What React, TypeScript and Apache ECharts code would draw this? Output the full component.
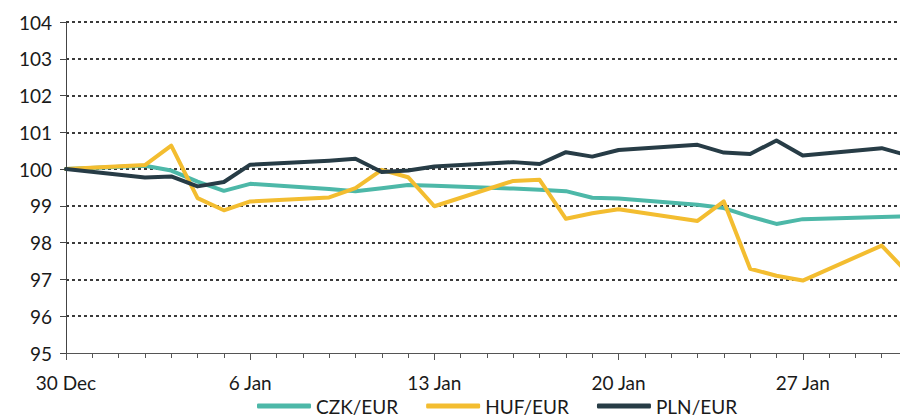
import React, { useEffect, useRef } from "react";
import * as echarts from "echarts";

const categories = [
  "30 Dec", "31 Dec", "1 Jan", "2 Jan", "3 Jan", "4 Jan", "5 Jan", "6 Jan",
  "7 Jan", "8 Jan", "9 Jan", "10 Jan", "11 Jan", "12 Jan", "13 Jan", "14 Jan",
  "15 Jan", "16 Jan", "17 Jan", "18 Jan", "19 Jan", "20 Jan", "21 Jan", "22 Jan",
  "23 Jan", "24 Jan", "25 Jan", "26 Jan", "27 Jan", "28 Jan", "29 Jan", "30 Jan", "31 Jan",
];

const czk = [
  100, null, null, 100.09, 99.96, 99.66, 99.41, 99.6,
  null, null, 99.46, 99.4, 99.48, 99.57, 99.55, null,
  null, 99.47, 99.44, 99.4, 99.22, 99.2, null, null,
  99.03, 98.94, 98.71, 98.51, 98.64, null, null, 98.7, 98.72,
];

const huf = [
  100, null, null, 100.11, 100.64, 99.21, 98.88, 99.12,
  null, null, 99.23, 99.48, 99.98, 99.78, 98.99, null,
  null, 99.68, 99.71, 98.65, 98.8, 98.91, null, null,
  98.59, 99.12, 97.29, 97.1, 96.97, null, null, 97.92, 97.17,
];

const pln = [
  100, null, null, 99.77, 99.8, 99.53, 99.65, 100.12,
  null, null, 100.23, 100.28, 99.92, 99.96, 100.07, null,
  null, 100.19, 100.14, 100.46, 100.34, 100.52, null, null,
  100.66, 100.45, 100.41, 100.78, 100.37, null, null, 100.57, 100.37,
];

const seriesNames = ["CZK/EUR", "HUF/EUR", "PLN/EUR"];
const colors = ["#4db8a8", "#f3bd30", "#273c46"];

const FONT = "Lato";
const TEXT = "#1a1a1a";

export default function App() {
  const ref = useRef<HTMLDivElement>(null);

  useEffect(() => {
    if (!ref.current) return;
    const chart = echarts.init(ref.current, undefined, { renderer: "svg" });
    const gridLayout = { left: 66, right: -8, top: 22, bottom: 64, outerBoundsMode: "none" as any };
    const option: any = {
      animation: false,
      textStyle: { fontFamily: FONT },
      grid: [{ ...gridLayout }, { ...gridLayout }],
      legend: {
        data: seriesNames,
        left: 257,
        top: 396,
        padding: 0,
        icon: "roundRect",
        itemWidth: 54,
        itemHeight: 5,
        itemGap: 28,
        textStyle: { fontFamily: FONT, fontSize: 19, color: TEXT, lineHeight: 20 },
      },
      xAxis: [
        {
          type: "category",
          gridIndex: 0,
          data: categories,
          boundaryGap: false,
          axisLine: { show: true, lineStyle: { color: "#555555", width: 1 } },
          axisTick: { show: true, interval: 0, length: 5, lineStyle: { color: "#555555" } },
          axisLabel: {
            interval: 6,
            margin: 20,
            fontFamily: FONT,
            fontSize: 19,
            color: TEXT,
          },
          splitLine: { show: false },
        },
        {
          type: "category",
          gridIndex: 1,
          data: categories,
          boundaryGap: false,
          axisLine: { show: false },
          axisTick: { show: true, interval: 6, length: 7, lineStyle: { color: "#555555" } },
          axisLabel: { show: false },
          splitLine: { show: false },
        },
      ],
      yAxis: [
        {
          type: "value",
          gridIndex: 0,
          min: 95,
          max: 104,
          interval: 1,
          axisLine: { show: true, lineStyle: { color: "#444444", width: 1 } },
          axisTick: { show: true, length: 6, lineStyle: { color: "#444444" } },
          axisLabel: { margin: 14, fontFamily: FONT, fontSize: 19, color: TEXT },
          splitLine: {
            show: true,
            showMinLine: false,
            lineStyle: { color: "#3a3a3a", width: 2, type: [3, 3] },
          },
        },
        {
          type: "value",
          gridIndex: 1,
          min: 95,
          max: 104,
          interval: 1,
          show: false,
        },
      ],
      series: [czk, huf, pln].map((d, i) => ({
        name: seriesNames[i],
        type: "line",
        xAxisIndex: 0,
        yAxisIndex: 0,
        data: d,
        connectNulls: true,
        symbol: "none",
        showSymbol: false,
        color: colors[i],
        lineStyle: { width: 4, color: colors[i], join: "round", cap: "round" },
        emphasis: { disabled: true },
      })),
    };
    chart.setOption(option);
    return () => chart.dispose();
  }, []);

  return (
    <div
      ref={ref}
      style={{ position: "fixed", left: 0, top: 0, width: 900, height: 417, background: "#ffffff" }}
    />
  );
}
